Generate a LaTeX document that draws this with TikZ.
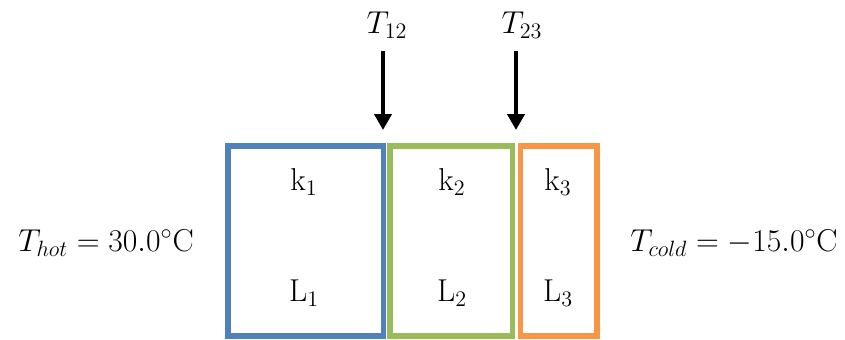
\RequirePackage{fix-cm}
\documentclass[tikz,border=0pt]{standalone}
\usepackage{amsmath}
\usetikzlibrary{arrows.meta}
\definecolor{layblue}{HTML}{4F81BD}
\definecolor{laygreen}{HTML}{9BBB59}
\definecolor{layorange}{HTML}{F79646}

\begin{document}
\begin{tikzpicture}[
  layer/.style={draw, line width=3.4pt, minimum height=3.8cm, inner sep=0pt},
  lbl/.style={font=\fontsize{18}{21}\selectfont, inner sep=0pt},
  arr/.style={line width=2.3pt, -{Triangle[length=3.2mm,width=3.4mm]}}]
 \useasboundingbox (0,0) rectangle (16.9,6.78);
 \node[layer, draw=layblue, minimum width=3.11cm] (lay1) at (6.115,1.96) {};
 \node[layer, draw=laygreen, minimum width=2.45cm] (lay2) at (9.025,1.96) {};
 \node[layer, draw=layorange, minimum width=1.53cm] (lay3) at (11.175,1.96) {};
 \node[lbl] (k1) at (6.08,3.14) {k$_1$};
 \node[lbl] (k2) at (9.04,3.14) {k$_2$};
 \node[lbl] (k3) at (11.16,3.14) {k$_3$};
 \node[lbl] (L1) at (6.08,0.92) {L$_1$};
 \node[lbl] (L2) at (9.04,0.92) {L$_2$};
 \node[lbl] (L3) at (11.16,0.92) {L$_3$};
 \node[lbl] (t12) at (7.74,6.28) {$T_{12}$};
 \node[lbl] (t23) at (10.44,6.28) {$T_{23}$};
 \coordinate (a12) at (7.66,5.76);
 \coordinate (tip12) at (7.66,4.18);
 \coordinate (a23) at (10.32,5.76);
 \coordinate (tip23) at (10.32,4.18);
 \draw[arr] (a12) -- (tip12);
 \draw[arr] (a23) -- (tip23);
 \node[lbl] (thot) at (2.12,1.92) {$T_{hot} = 30.0{}^{\circ}\mathrm{C}$};
 \node[lbl] (tcold) at (14.68,1.92) {$T_{cold} = -15.0{}^{\circ}\mathrm{C}$};
\end{tikzpicture}
\end{document}
